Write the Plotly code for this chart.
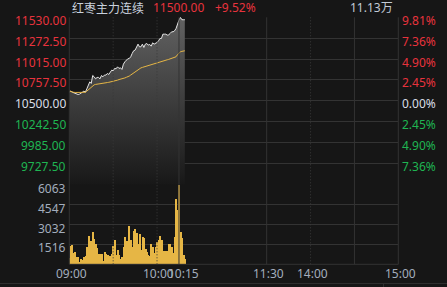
import plotly.graph_objects as go

# ---------------- data ----------------
prev_close = 10500.0
price_levels = [11530.0, 11272.5, 11015.0, 10757.5, 10500.0, 10242.5, 9985.0, 9727.5, 9470.0]
pct_labels = ["9.81%", "7.36%", "4.90%", "2.45%", "0.00%", "2.45%", "4.90%", "7.36%"]
vol_levels = [0, 1516, 3032, 4547, 6063]
vol_labels = ["", "1516", "3032", "4547", "6063"]

price = [10607, 10620, 10607, 10600, 10593, 10593, 10578, 10583, 10600, 10607,
         10620, 10607, 10648, 10706, 10734, 10714, 10812, 10796, 10771, 10788,
         10788, 10771, 10812, 10796, 10817, 10817, 10837, 10825, 10854, 10878,
         10870, 10899, 10895, 10919, 10899, 10907, 10887, 10952, 10981, 11002,
         11018, 11022, 11043, 11084, 11117, 11125, 11166, 11199, 11166, 11166,
         11199, 11158, 11199, 11207, 11187, 11195, 11174, 11215, 11199, 11207,
         11220, 11240, 11269, 11269, 11322, 11322, 11322, 11310, 11314, 11331,
         11351, 11351, 11364, 11392, 11454, 11495, 11530, 11500, 11500, 11500]

avg_price = [10619, 10611, 10607, 10605, 10603, 10603, 10600, 10598, 10596, 10598,
             10600, 10605, 10620, 10635, 10652, 10665, 10690, 10697, 10702, 10706,
             10710, 10714, 10716, 10718, 10720, 10722, 10725, 10728, 10731, 10734,
             10738, 10742, 10748, 10755, 10762, 10765, 10768, 10775, 10782, 10790,
             10796, 10805, 10818, 10830, 10845, 10860, 10875, 10888, 10899, 10906,
             10912, 10918, 10925, 10930, 10936, 10942, 10947, 10952, 10958, 10965,
             10972, 10978, 10984, 10990, 10995, 10999, 11002, 11006, 11011, 11016,
             11020, 11026, 11033, 11043, 11070, 11090, 11104, 11110, 11114, 11117]

volume = [510, 1430, 1480, 895, 970, 540, 540, 200, 380, 330,
          540, 640, 1350, 2170, 1250, 1810, 2480, 1940, 1530, 1225,
          790, 790, 790, 255, 920, 790, 715, 640, 665, 790,
          1430, 1860, 715, 1100, 715, 435, 540, 1350, 2070, 1810,
          1350, 2940, 1860, 1350, 2560, 2680, 2430, 1560, 2330, 1100,
          2070, 1990, 1175, 970, 715, 615, 1560, 1350, 840, 1300,
          1740, 1860, 2170, 1860, 1020, 1020, 1020, 1020, 1560, 1560,
          1350, 895, 2070, 5000, 4160, 6063, 2500, 1990, 715, 400]

# time axis: trading-minute slots (09:00-10:15, 10:30-11:30, 13:30-15:00 = 225 min)
time_ticks = [0, 60, 75, 135, 165, 225]
time_labels = ["09:00", "10:00", "10:15", "11:30", "14:00", "15:00"]
time_label_shift = [2, 1, 4.5, 2, 1.5, 2.5]
dotted_slots = [30, 60, 165]
solid_slots = [75, 135, 195]

title_name = "红枣主力连续"
last_price = "11500.00"
last_pct = "+9.52%"
total_vol = "11.13万"

# ---------------- styling ----------------
W, H = 447, 287
BG = "#161616"
GRID = "#333333"
RED = "#e8333d"
GREEN = "#1fb552"
WHITE = "#d9dee6"
GRAYTXT = "#a3adbd"
GOLD = "#e6b645"
FONT = "Noto Sans, Noto Sans CJK SC, sans-serif"

def px(x):
    return x / W

def py(y):
    return 1 - y / H

X0, X1 = 69.3, 398.3
P_TOP, P_BOT = 17.3, 184.3
V_TOP, V_BOT = 185.0, 264.3

x_idx = list(range(len(price)))

fig = go.Figure()

fig.add_trace(go.Scatter(
    x=x_idx, y=price, mode="lines",
    line=dict(color="#e6e6e6", width=1),
    fill="tozeroy",
    fillgradient=dict(type="vertical", start=9470, stop=11530,
                      colorscale=[[0, "#181818"], [1, "#626262"]]),
    xaxis="x", yaxis="y", hoverinfo="skip", showlegend=False))

fig.add_trace(go.Scatter(
    x=x_idx, y=avg_price, mode="lines",
    line=dict(color=GOLD, width=1),
    xaxis="x", yaxis="y", hoverinfo="skip", showlegend=False))

fig.add_trace(go.Bar(
    x=x_idx, y=volume, marker=dict(color=GOLD, line=dict(width=0)),
    width=0.72, offset=0,
    xaxis="x2", yaxis="y2", hoverinfo="skip", showlegend=False))

axis_common = dict(showticklabels=False, zeroline=False, ticks="", showline=False)

fig.update_layout(
    width=W, height=H,
    margin=dict(l=0, r=0, t=0, b=0),
    paper_bgcolor=BG, plot_bgcolor=BG,
    showlegend=False,
    xaxis=dict(domain=[px(X0), px(X1)], range=[0, 225], showgrid=False, anchor="y", **axis_common),
    yaxis=dict(domain=[py(P_BOT), py(P_TOP)], range=[9470, 11530], tickvals=price_levels,
               showgrid=True, gridcolor=GRID, gridwidth=1, anchor="x", **axis_common),
    xaxis2=dict(domain=[px(X0), px(X1)], range=[0, 225], showgrid=False, anchor="y2",
                matches="x", **axis_common),
    yaxis2=dict(domain=[py(V_BOT), py(V_TOP)], range=[0, 6063], tickvals=vol_levels,
                showgrid=True, gridcolor=GRID, gridwidth=1, anchor="x2", **axis_common),
    bargap=0,
)

shapes = []
# plot borders
for xx in [X0, X1]:
    shapes.append(dict(type="line", xref="paper", yref="paper",
                       x0=px(xx), x1=px(xx), y0=py(V_BOT), y1=py(P_TOP),
                       line=dict(color=GRID, width=1)))
shapes.append(dict(type="line", xref="paper", yref="paper", x0=px(X0), x1=px(X1),
                   y0=py(V_BOT), y1=py(V_BOT), line=dict(color=GRID, width=1)))
# vertical time grid
for s in solid_slots:
    shapes.append(dict(type="line", xref="x", yref="paper", x0=s, x1=s,
                       y0=py(V_BOT), y1=py(P_TOP), line=dict(color=GRID, width=1)))
for s in dotted_slots:
    shapes.append(dict(type="line", xref="x", yref="paper", x0=s, x1=s,
                       y0=py(V_BOT), y1=py(P_TOP), line=dict(color="#3a3a3a", width=1, dash="1px,2px")))
# bottom frame line
shapes.append(dict(type="line", xref="paper", yref="paper", x0=0, x1=1,
                   y0=py(283.5), y1=py(283.5), line=dict(color="#2e2e2e", width=1)))
shapes.append(dict(type="line", xref="paper", yref="paper", x0=px(383.5), x1=px(383.5),
                   y0=py(283.5), y1=0, line=dict(color="#2e2e2e", width=1)))
fig.update_layout(shapes=shapes)

ann = []
# left price labels and right percent labels
for i, v in enumerate(price_levels[:-1]):
    col = RED if v > prev_close else (WHITE if v == prev_close else GREEN)
    ann.append(dict(x=px(67.5), xref="paper", y=v, yref="y", yshift=-3,
                    text=f"{v:.2f}", showarrow=False, xanchor="right", yanchor="middle",
                    font=dict(family=FONT, size=12, color=col)))
    ann.append(dict(x=px(399.5), xref="paper", y=v, yref="y", yshift=-3,
                    text=pct_labels[i], showarrow=False, xanchor="left", yanchor="middle",
                    font=dict(family=FONT, size=12, color=col)))
# volume labels
for v, t in zip(vol_levels, vol_labels):
    if t:
        ann.append(dict(x=px(67.5), xref="paper", y=v, yref="y2", yshift=-3.5,
                        text=t, showarrow=False, xanchor="right", yanchor="middle",
                        font=dict(family=FONT, size=12, color=GRAYTXT)))
# time labels
for t, lab, sh in zip(time_ticks, time_labels, time_label_shift):
    ann.append(dict(x=t, xref="x2", y=py(273.5), yref="paper", xshift=sh,
                    text=lab, showarrow=False, xanchor="center", yanchor="middle",
                    font=dict(family=FONT, size=12, color=GRAYTXT)))
# header
ann.append(dict(x=px(69.5), xref="paper", y=py(8), yref="paper", text=title_name,
                showarrow=False, xanchor="left", yanchor="middle",
                font=dict(family="Noto Sans CJK SC, sans-serif", size=12, color="#c9d1dd")))
ann.append(dict(x=px(150.5), xref="paper", y=py(8), yref="paper", text=last_price,
                showarrow=False, xanchor="left", yanchor="middle",
                font=dict(family=FONT, size=12, color=RED)))
ann.append(dict(x=px(212.5), xref="paper", y=py(8), yref="paper", text=last_pct,
                showarrow=False, xanchor="left", yanchor="middle",
                font=dict(family=FONT, size=12, color=RED)))
ann.append(dict(x=px(395), xref="paper", y=py(8), yref="paper", text=total_vol,
                showarrow=False, xanchor="right", yanchor="middle",
                font=dict(family=FONT, size=12, color="#c2cad6")))
fig.update_layout(annotations=ann)

fig.write_html("out.html")
